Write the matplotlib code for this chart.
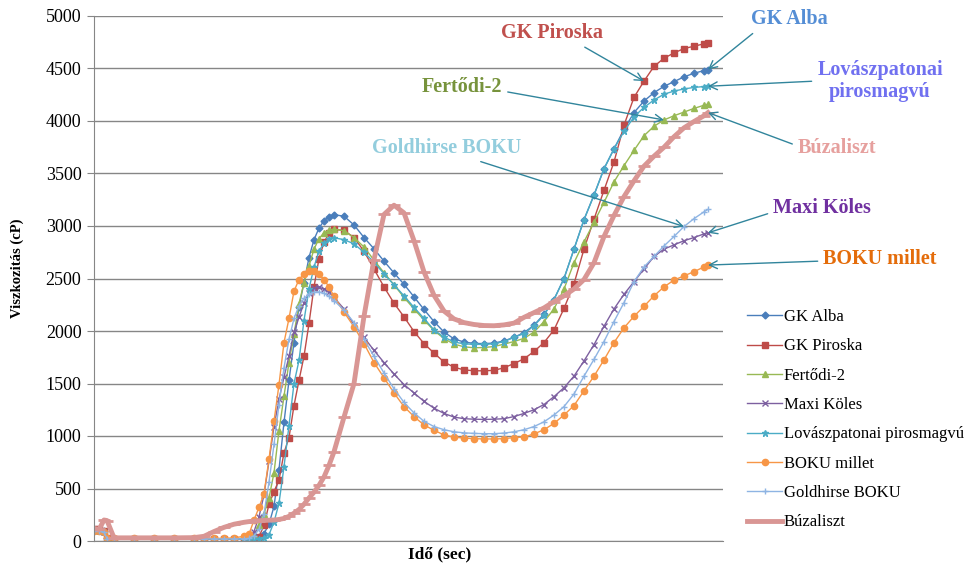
import matplotlib
matplotlib.use("Agg")
import matplotlib.pyplot as plt

plt.rcParams["font.family"] = ["Liberation Serif", "DejaVu Serif"]

# idő (sec) - közös mintavételi pontok
time = [0, 5, 10, 13, 20, 40, 60, 80, 100, 110, 120, 130, 140, 150,
        155, 160, 165, 170, 175, 180, 185, 190, 195, 200, 205, 210, 215, 220, 225, 230, 235, 240,
        250, 260, 270, 280, 290, 300, 310, 320, 330, 340, 350, 360, 370, 380, 390, 400, 410, 420,
        430, 440, 450, 460, 470, 480, 490, 500, 510, 520, 530, 540, 550, 560, 570, 580, 590, 600, 610, 614]

# viszkozitás (cP)
gk_alba = [110, 105, 95, 25, 22, 20, 20, 20, 20, 20, 20, 20, 20, 20,
           22, 25, 35, 70, 160, 330, 680, 1130, 1530, 1890, 2230, 2460, 2700, 2870, 2980, 3050, 3090, 3108,
           3093, 3010, 2890, 2783, 2665, 2553, 2445, 2325, 2205, 2090, 1990, 1925, 1895, 1882, 1880, 1885, 1905, 1940,
           1985, 2055, 2160, 2300, 2500, 2780, 3060, 3295, 3545, 3735, 3920, 4080, 4190, 4270, 4330, 4375, 4420, 4455, 4480, 4490]
gk_piroska = [115, 110, 95, 25, 20, 20, 20, 20, 20, 20, 20, 20, 20, 20,
              20, 22, 40, 150, 350, 470, 580, 840, 985, 1290, 1530, 1760, 2072, 2420, 2690, 2845, 2930, 2968,
              2958, 2890, 2760, 2590, 2420, 2265, 2135, 1995, 1880, 1790, 1705, 1655, 1630, 1621, 1621, 1625, 1650, 1690,
              1735, 1805, 1890, 2010, 2215, 2450, 2780, 3065, 3340, 3610, 3960, 4225, 4380, 4520, 4598, 4648, 4690, 4712, 4735, 4740]
fertodi = [110, 105, 92, 25, 22, 22, 22, 22, 22, 22, 22, 22, 22, 22,
           25, 60, 150, 260, 410, 650, 1050, 1380, 1700, 1970, 2260, 2460, 2620, 2780, 2880, 2935, 2962, 2970,
           2955, 2890, 2800, 2675, 2555, 2440, 2320, 2210, 2105, 2005, 1928, 1875, 1850, 1840, 1843, 1852, 1875, 1900,
           1930, 1990, 2090, 2210, 2400, 2650, 2850, 3035, 3225, 3420, 3575, 3720, 3860, 3950, 4010, 4050, 4085, 4120, 4150, 4160]
maxi_koles = [105, 100, 90, 22, 20, 20, 20, 20, 20, 20, 20, 20, 20, 22,
              35, 90, 230, 440, 760, 1090, 1350, 1560, 1760, 1990, 2130, 2270, 2365, 2410, 2415, 2400, 2370, 2320,
              2210, 2060, 1940, 1815, 1700, 1590, 1490, 1410, 1330, 1265, 1215, 1180, 1165, 1160, 1158, 1160, 1165, 1185,
              1215, 1250, 1300, 1375, 1460, 1570, 1715, 1870, 2045, 2210, 2350, 2470, 2590, 2710, 2780, 2820, 2860, 2890, 2925, 2935]
lovaszpatonai = [105, 100, 90, 22, 18, 18, 18, 18, 18, 18, 18, 18, 18, 18,
                 18, 18, 20, 30, 60, 180, 360, 707, 1100, 1500, 1720, 2100, 2400, 2610, 2760, 2840, 2875, 2888,
                 2870, 2830, 2750, 2655, 2545, 2440, 2335, 2225, 2120, 2010, 1942, 1895, 1878, 1872, 1873, 1878, 1900, 1940,
                 1975, 2050, 2150, 2300, 2500, 2780, 3060, 3295, 3545, 3735, 3900, 4040, 4130, 4200, 4255, 4285, 4305, 4320, 4328, 4331]
boku_millet = [100, 95, 85, 25, 25, 25, 25, 25, 25, 25, 25, 25, 30, 45,
               65, 200, 320, 450, 780, 1140, 1490, 1890, 2120, 2380, 2490, 2545, 2568, 2570, 2540, 2490, 2420, 2330,
               2180, 2040, 1880, 1700, 1555, 1410, 1280, 1185, 1105, 1055, 1010, 990, 980, 975, 972, 972, 975, 985,
               990, 1020, 1060, 1120, 1200, 1290, 1430, 1570, 1725, 1890, 2030, 2140, 2235, 2335, 2420, 2485, 2525, 2565, 2610, 2628]
goldhirse = [100, 95, 85, 22, 20, 20, 20, 20, 20, 20, 20, 20, 20, 20,
             25, 50, 110, 260, 560, 920, 1300, 1650, 1920, 2120, 2240, 2310, 2350, 2370, 2372, 2360, 2330, 2290,
             2200, 2080, 1920, 1760, 1600, 1450, 1320, 1220, 1140, 1090, 1060, 1040, 1030, 1025, 1022, 1022, 1028, 1040,
             1060, 1090, 1135, 1200, 1280, 1400, 1570, 1730, 1900, 2090, 2270, 2470, 2610, 2710, 2810, 2900, 2995, 3070, 3135, 3158]
buzaliszt = [120, 110, 200, 195, 30, 30, 30, 30, 32, 45, 90, 130, 160, 178,
             185, 190, 193, 196, 198, 200, 205, 215, 235, 265, 300, 350, 410, 465, 530, 610, 720, 850,
             1180, 1500, 2140, 2680, 3110, 3198, 3125, 2860, 2563, 2340, 2190, 2115, 2080, 2062, 2052, 2050, 2058, 2075,
             2130, 2175, 2220, 2280, 2335, 2400, 2490, 2650, 2900, 3100, 3280, 3430, 3570, 3665, 3750, 3850, 3935, 3995, 4050, 4080]

names = ["GK Alba", "GK Piroska", "Fertődi-2", "Maxi Köles", "Lovászpatonai pirosmagvú",
         "BOKU millet", "Goldhirse BOKU", "Búzaliszt"]
values = [gk_alba, gk_piroska, fertodi, maxi_koles, lovaszpatonai, boku_millet, goldhirse, buzaliszt]
colors = ["#4A7EBB", "#BE4B48", "#98B954", "#7D60A0", "#4BACC6", "#F79646", "#8EB4E3", "#D99694"]
markers = ["D", "s", "^", "x", "*", "o", "+", "_"]
msizes = [3.5, 5, 4.5, 4, 5, 4.5, 5, 8]
lwidths = [1, 1, 1, 1, 1, 1, 1, 3.5]

fig = plt.figure(figsize=(9.76, 5.68), dpi=100)
ax = fig.add_axes([94 / 976, 1 - 541 / 568, 629 / 976, 525 / 568])

for name, vals, c, m, ms, lw in zip(names, values, colors, markers, msizes, lwidths):
    ax.plot(time, vals, color=c, marker=m, markersize=ms, linewidth=lw,
            markeredgewidth=2 if m == "_" else 1, label=name)

ax.set_xlim(0, 629)
ax.set_ylim(0, 5000)
ax.set_yticks(range(0, 5001, 500))
ax.set_xticks([])
ax.tick_params(axis="y", length=5, color="#868686", labelsize=13, pad=4)
ax.yaxis.grid(True, color="#868686", linewidth=1)
ax.set_axisbelow(True)
for s in ["top", "right"]:
    ax.spines[s].set_visible(False)
for s in ["left", "bottom"]:
    ax.spines[s].set_color("#868686")

ax.set_ylabel("Viszkozitás (cP)", fontsize=10.5, fontweight="bold")
ax.yaxis.set_label_coords(-0.112, 0.52)
ax.set_xlabel("Idő (sec)", fontsize=12.5, fontweight="bold")
ax.xaxis.set_label_coords(0.55, -0.011)

ax.legend(loc="upper left", bbox_to_anchor=(747 / 976, 1 - 309 / 568), bbox_transform=fig.transFigure,
          frameon=False, fontsize=12, labelspacing=0.8, handlelength=2.1, handletextpad=0.12,
          borderaxespad=0, borderpad=0)

# feliratok nyíllal
arrow_color = "#31859C"
labels = [
    ("GK Alba", gk_alba, -1, (789, 549), (0.1, 0.0), "#558ED5"),
    ("GK Piroska", gk_piroska, 62, (552, 535), (0.75, 0.0), "#C0504D"),
    ("Lovászpatonai\npirosmagvú", lovaszpatonai, -1, (880, 487), (0.0, 0.5), "#7070F0"),
    ("Fertődi-2", fertodi, 64, (462, 481), (1.0, 0.3), "#77933C"),
    ("Búzaliszt", buzaliszt, -1, (837, 420), (0.0, 0.6), "#E6A09E"),
    ("Goldhirse BOKU", goldhirse, 66, (447, 420), (0.65, 0.0), "#93CDDD"),
    ("Maxi Köles", maxi_koles, -1, (822, 360), (0.0, 0.3), "#7030A0"),
    ("BOKU millet", boku_millet, -1, (880, 309), (0.0, 0.4), "#E46C0A"),
]
for txt, vals, i, pos, rel, c in labels:
    ax.annotate(txt, xy=(time[i], vals[i]), xytext=pos, textcoords="figure pixels",
                ha="center", va="center", fontsize=14.5, fontweight="bold", color=c,
                linespacing=1.1, annotation_clip=False,
                arrowprops=dict(arrowstyle="->", color=arrow_color, lw=1, relpos=rel,
                                shrinkA=2, shrinkB=0, mutation_scale=14))

fig.savefig("out.png", dpi=100)
